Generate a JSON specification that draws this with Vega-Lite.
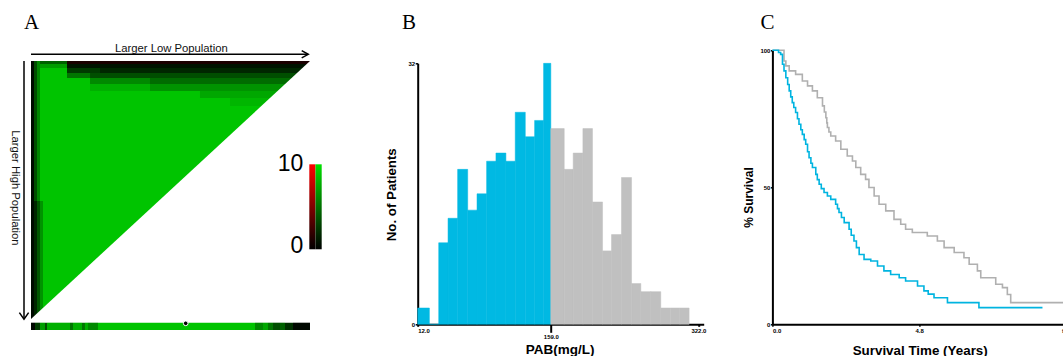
{
  "$schema": "https://vega.github.io/schema/vega-lite/v6.json",
  "autosize": {"type": "pad"},
  "padding": {"left": 9, "top": 11.3, "right": 0, "bottom": 0},
  "background": "white",
  "spacing": 68.7,
  "bounds": "flush",
  "config": {
    "view": {"stroke": null},
    "font": "Liberation Sans",
    "axis": {
      "domainColor": "#000", "domainWidth": 2, "tickColor": "#000", "tickWidth": 1.5, "tickSize": 2,
      "labelColor": "#000", "labelFont": "Liberation Sans", "labelFontSize": 6, "labelFontWeight": "bold",
      "labelPadding": 1, "labelOverlap": false, "labelFlush": false,
      "titleFont": "Liberation Sans", "titleFontWeight": "bold", "titleColor": "#000",
      "titleAlign": "center", "titleBaseline": "alphabetic", "grid": false
    }
  },
  "datasets": {
    "one": [{}],
    "cells": [
      {"u0": 0, "u1": 100, "w0": 0, "w1": 100, "chi": 10},
      {"u0": 1.08, "u1": 12.9, "w0": 0, "w1": 1.16, "chi": 5},
      {"u0": 12.9, "u1": 100, "w0": 0, "w1": 1.16, "chi": -1},
      {"u0": 1.08, "u1": 12.9, "w0": 1.16, "w1": 2.71, "chi": 8},
      {"u0": 12.9, "u1": 100, "w0": 1.16, "w1": 2.71, "chi": 1},
      {"u0": 12.9, "u1": 24.73, "w0": 2.71, "w1": 4.65, "chi": 3},
      {"u0": 24.73, "u1": 100, "w0": 2.71, "w1": 4.65, "chi": 2},
      {"u0": 12.9, "u1": 21.15, "w0": 4.65, "w1": 6.59, "chi": 6},
      {"u0": 21.15, "u1": 100, "w0": 4.65, "w1": 6.59, "chi": 4},
      {"u0": 21.15, "u1": 42.65, "w0": 6.59, "w1": 8.91, "chi": 7},
      {"u0": 42.65, "u1": 100, "w0": 6.59, "w1": 8.91, "chi": 5.5},
      {"u0": 21.15, "u1": 42.65, "w0": 8.91, "w1": 11.63, "chi": 9},
      {"u0": 42.65, "u1": 100, "w0": 8.91, "w1": 11.63, "chi": 7.5},
      {"u0": 60.57, "u1": 100, "w0": 11.63, "w1": 14.34, "chi": 8.5},
      {"u0": 71.33, "u1": 100, "w0": 14.34, "w1": 17.44, "chi": 9.3},
      {"u0": 0, "u1": 1.08, "w0": 0, "w1": 100, "chi": 0.5},
      {"u0": 1.08, "u1": 2.15, "w0": 0, "w1": 54.26, "chi": 4},
      {"u0": 1.08, "u1": 2.15, "w0": 54.26, "w1": 100, "chi": 2},
      {"u0": 2.15, "u1": 3.23, "w0": 0, "w1": 54.26, "chi": 7},
      {"u0": 2.15, "u1": 3.23, "w0": 54.26, "w1": 100, "chi": 4.5},
      {"u0": 3.23, "u1": 4.3, "w0": 54.26, "w1": 100, "chi": 7.5},
      {"u0": 0, "u1": 1.43, "w0": 101.43, "w1": 104.26, "chi": 0.3},
      {"u0": 1.43, "u1": 3.23, "w0": 101.43, "w1": 104.26, "chi": 3},
      {"u0": 3.23, "u1": 5.02, "w0": 101.43, "w1": 104.26, "chi": 8},
      {"u0": 5.02, "u1": 5.73, "w0": 101.43, "w1": 104.26, "chi": 4},
      {"u0": 5.73, "u1": 13.98, "w0": 101.43, "w1": 104.26, "chi": 9},
      {"u0": 13.98, "u1": 15.05, "w0": 101.43, "w1": 104.26, "chi": 6},
      {"u0": 15.05, "u1": 18.28, "w0": 101.43, "w1": 104.26, "chi": 9},
      {"u0": 18.28, "u1": 19.35, "w0": 101.43, "w1": 104.26, "chi": 6},
      {"u0": 19.35, "u1": 20.43, "w0": 101.43, "w1": 104.26, "chi": 9},
      {"u0": 20.43, "u1": 24.01, "w0": 101.43, "w1": 104.26, "chi": 7},
      {"u0": 24.01, "u1": 80.29, "w0": 101.43, "w1": 104.26, "chi": 10},
      {"u0": 80.29, "u1": 83.15, "w0": 101.43, "w1": 104.26, "chi": 7},
      {"u0": 83.15, "u1": 84.95, "w0": 101.43, "w1": 104.26, "chi": 8.5},
      {"u0": 84.95, "u1": 86.74, "w0": 101.43, "w1": 104.26, "chi": 6},
      {"u0": 86.74, "u1": 89.25, "w0": 101.43, "w1": 104.26, "chi": 4},
      {"u0": 89.25, "u1": 91.04, "w0": 101.43, "w1": 104.26, "chi": 5},
      {"u0": 91.04, "u1": 93.91, "w0": 101.43, "w1": 104.26, "chi": 2.5},
      {"u0": 93.91, "u1": 100, "w0": 101.43, "w1": 104.26, "chi": 0.4}
    ],
    "empty": [
      {"u": 0, "lo": 100, "hi": 100},
      {"u": 100, "lo": 0, "hi": 100}
    ],
    "hist": [
      {"lo": 12, "hi": 24.9, "n": 2, "grp": "low"},
      {"lo": 24.9, "hi": 35.2, "n": 0, "grp": "low"},
      {"lo": 35.2, "hi": 45.5, "n": 10, "grp": "low"},
      {"lo": 45.5, "hi": 56.1, "n": 13, "grp": "low"},
      {"lo": 56.1, "hi": 67.2, "n": 19, "grp": "low"},
      {"lo": 67.2, "hi": 77.5, "n": 14, "grp": "low"},
      {"lo": 77.5, "hi": 88.1, "n": 16, "grp": "low"},
      {"lo": 88.1, "hi": 98.4, "n": 20, "grp": "low"},
      {"lo": 98.4, "hi": 109.4, "n": 21, "grp": "low"},
      {"lo": 109.4, "hi": 119.7, "n": 20, "grp": "low"},
      {"lo": 119.7, "hi": 130.8, "n": 26, "grp": "low"},
      {"lo": 130.8, "hi": 141.1, "n": 23, "grp": "low"},
      {"lo": 141.1, "hi": 151.0, "n": 25, "grp": "low"},
      {"lo": 151.0, "hi": 159.0, "n": 32, "grp": "low"},
      {"lo": 159.0, "hi": 173.8, "n": 24, "grp": "high"},
      {"lo": 173.8, "hi": 183.7, "n": 19, "grp": "high"},
      {"lo": 183.7, "hi": 194.4, "n": 21, "grp": "high"},
      {"lo": 194.4, "hi": 205.0, "n": 24, "grp": "high"},
      {"lo": 205.0, "hi": 216.1, "n": 15, "grp": "high"},
      {"lo": 216.1, "hi": 226.0, "n": 9, "grp": "high"},
      {"lo": 226.0, "hi": 237.0, "n": 11, "grp": "high"},
      {"lo": 237.0, "hi": 248.1, "n": 18, "grp": "high"},
      {"lo": 248.1, "hi": 258.4, "n": 5, "grp": "high"},
      {"lo": 258.4, "hi": 269.4, "n": 4, "grp": "high"},
      {"lo": 269.4, "hi": 280.4, "n": 4, "grp": "high"},
      {"lo": 280.4, "hi": 291.0, "n": 2, "grp": "high"},
      {"lo": 291.0, "hi": 301.4, "n": 2, "grp": "high"},
      {"lo": 301.4, "hi": 311.7, "n": 2, "grp": "high"}
    ],
    "km": [
      {"grp": "high", "t": 0, "s": 100},
      {"grp": "high", "t": 0.29, "s": 100},
      {"grp": "high", "t": 0.38, "s": 96.1},
      {"grp": "high", "t": 0.44, "s": 94.3},
      {"grp": "high", "t": 0.55, "s": 92.5},
      {"grp": "high", "t": 0.76, "s": 91.2},
      {"grp": "high", "t": 0.98, "s": 88.8},
      {"grp": "high", "t": 1.15, "s": 87.0},
      {"grp": "high", "t": 1.31, "s": 85.2},
      {"grp": "high", "t": 1.47, "s": 82.7},
      {"grp": "high", "t": 1.64, "s": 79.7},
      {"grp": "high", "t": 1.7, "s": 77.5},
      {"grp": "high", "t": 1.75, "s": 75.4},
      {"grp": "high", "t": 1.78, "s": 73.5},
      {"grp": "high", "t": 1.8, "s": 71.8},
      {"grp": "high", "t": 1.85, "s": 70.2},
      {"grp": "high", "t": 1.91, "s": 68.7},
      {"grp": "high", "t": 2.07, "s": 66.9},
      {"grp": "high", "t": 2.24, "s": 63.9},
      {"grp": "high", "t": 2.45, "s": 61.4},
      {"grp": "high", "t": 2.62, "s": 59.6},
      {"grp": "high", "t": 2.73, "s": 57.2},
      {"grp": "high", "t": 2.89, "s": 54.7},
      {"grp": "high", "t": 3.05, "s": 52.9},
      {"grp": "high", "t": 3.16, "s": 49.9},
      {"grp": "high", "t": 3.33, "s": 46.8},
      {"grp": "high", "t": 3.49, "s": 43.8},
      {"grp": "high", "t": 3.71, "s": 41.4},
      {"grp": "high", "t": 3.98, "s": 38.3},
      {"grp": "high", "t": 4.2, "s": 36.5},
      {"grp": "high", "t": 4.36, "s": 34.7},
      {"grp": "high", "t": 4.58, "s": 33.5},
      {"grp": "high", "t": 5.07, "s": 32.2},
      {"grp": "high", "t": 5.4, "s": 30.4},
      {"grp": "high", "t": 5.62, "s": 28.0},
      {"grp": "high", "t": 5.95, "s": 26.2},
      {"grp": "high", "t": 6.27, "s": 24.3},
      {"grp": "high", "t": 6.44, "s": 21.9},
      {"grp": "high", "t": 6.71, "s": 19.5},
      {"grp": "high", "t": 6.82, "s": 17.0},
      {"grp": "high", "t": 7.31, "s": 14.6},
      {"grp": "high", "t": 7.53, "s": 13.4},
      {"grp": "high", "t": 7.69, "s": 10.9},
      {"grp": "high", "t": 7.8, "s": 7.9},
      {"grp": "high", "t": 9.6, "s": 7.9},
      {"grp": "low", "t": 0, "s": 100},
      {"grp": "low", "t": 0.2, "s": 99.2},
      {"grp": "low", "t": 0.27, "s": 98.5},
      {"grp": "low", "t": 0.33, "s": 94.9},
      {"grp": "low", "t": 0.38, "s": 92.5},
      {"grp": "low", "t": 0.44, "s": 90.0},
      {"grp": "low", "t": 0.5, "s": 87.5},
      {"grp": "low", "t": 0.55, "s": 85.2},
      {"grp": "low", "t": 0.6, "s": 83.0},
      {"grp": "low", "t": 0.65, "s": 80.9},
      {"grp": "low", "t": 0.7, "s": 79.1},
      {"grp": "low", "t": 0.76, "s": 77.3},
      {"grp": "low", "t": 0.82, "s": 75.0},
      {"grp": "low", "t": 0.87, "s": 73.0},
      {"grp": "low", "t": 0.93, "s": 71.0},
      {"grp": "low", "t": 0.98, "s": 69.3},
      {"grp": "low", "t": 1.04, "s": 67.4},
      {"grp": "low", "t": 1.09, "s": 65.7},
      {"grp": "low", "t": 1.15, "s": 63.0},
      {"grp": "low", "t": 1.2, "s": 60.8},
      {"grp": "low", "t": 1.26, "s": 58.8},
      {"grp": "low", "t": 1.31, "s": 57.2},
      {"grp": "low", "t": 1.42, "s": 54.7},
      {"grp": "low", "t": 1.47, "s": 52.8},
      {"grp": "low", "t": 1.53, "s": 51.1},
      {"grp": "low", "t": 1.6, "s": 49.5},
      {"grp": "low", "t": 1.69, "s": 48.1},
      {"grp": "low", "t": 1.8, "s": 46.8},
      {"grp": "low", "t": 1.91, "s": 45.6},
      {"grp": "low", "t": 2.07, "s": 43.8},
      {"grp": "low", "t": 2.13, "s": 42.2},
      {"grp": "low", "t": 2.18, "s": 40.8},
      {"grp": "low", "t": 2.26, "s": 39.0},
      {"grp": "low", "t": 2.35, "s": 37.1},
      {"grp": "low", "t": 2.51, "s": 34.7},
      {"grp": "low", "t": 2.58, "s": 32.5},
      {"grp": "low", "t": 2.67, "s": 30.4},
      {"grp": "low", "t": 2.75, "s": 28.0},
      {"grp": "low", "t": 2.84, "s": 25.5},
      {"grp": "low", "t": 3.0, "s": 23.7},
      {"grp": "low", "t": 3.22, "s": 23.1},
      {"grp": "low", "t": 3.44, "s": 21.3},
      {"grp": "low", "t": 3.65, "s": 19.5},
      {"grp": "low", "t": 3.87, "s": 18.2},
      {"grp": "low", "t": 4.15, "s": 17.0},
      {"grp": "low", "t": 4.36, "s": 15.8},
      {"grp": "low", "t": 4.75, "s": 14.0},
      {"grp": "low", "t": 4.96, "s": 12.2},
      {"grp": "low", "t": 5.1, "s": 11.0},
      {"grp": "low", "t": 5.29, "s": 9.7},
      {"grp": "low", "t": 5.73, "s": 7.9},
      {"grp": "low", "t": 6.76, "s": 6.1},
      {"grp": "low", "t": 8.84, "s": 6.1}
    ]
  },
  "hconcat": [
    {
      "width": 317.3,
      "height": 274,
      "layer": [
        {
          "data": {"name": "cells"},
          "mark": {"type": "rect"},
          "encoding": {
            "x": {"field": "u0", "type": "quantitative", "scale": {"domain": [0, 100], "range": [0, 279], "nice": false, "zero": false}, "axis": null},
            "x2": {"field": "u1"},
            "y": {"field": "w0", "type": "quantitative", "scale": {"domain": [0, 100], "range": [10.7, 268.7], "nice": false, "zero": false}, "axis": null},
            "y2": {"field": "w1"},
            "color": {"field": "chi", "type": "quantitative", "scale": {"domain": [-10, 0, 10], "range": ["#ff0000", "#000000", "#00c400"], "interpolate": "rgb"}, "legend": null}
          }
        },
        {
          "data": {"name": "empty"},
          "mark": {"type": "area", "color": "white"},
          "encoding": {
            "x": {"field": "u", "type": "quantitative"},
            "y": {"field": "lo", "type": "quantitative"},
            "y2": {"field": "hi"}
          }
        },
        {
          "data": {"name": "one"},
          "mark": {"type": "rule", "color": "black", "strokeWidth": 1.5},
          "encoding": {"x": {"datum": 0}, "x2": {"datum": 99.2}, "y": {"datum": -2.6}}
        },
        {
          "data": {"name": "one"},
          "mark": {"type": "point", "shape": "M-1,-0.55L0,0L-1,0.55", "filled": false, "stroke": "black", "strokeWidth": 1.5, "size": 174, "opacity": 1},
          "encoding": {"x": {"datum": 99.39}, "y": {"datum": -2.6}}
        },
        {
          "data": {"name": "one"},
          "mark": {"type": "rule", "color": "black", "strokeWidth": 1.5},
          "encoding": {"x": {"datum": -2.51}, "y": {"datum": 0}, "y2": {"datum": 99.9}}
        },
        {
          "data": {"name": "one"},
          "mark": {"type": "point", "shape": "M-0.7,-1L0,0L0.7,-1", "filled": false, "stroke": "black", "strokeWidth": 1.5, "size": 174, "opacity": 1},
          "encoding": {"x": {"datum": -2.51}, "y": {"datum": 100.1}}
        },
        {
          "data": {"name": "one"},
          "mark": {"type": "text", "text": "Larger Low Population", "font": "Liberation Sans", "fontSize": 11.3, "align": "center", "baseline": "alphabetic", "color": "#111"},
          "encoding": {"x": {"datum": 50.3}, "y": {"datum": -3.6}}
        },
        {
          "data": {"name": "one"},
          "mark": {"type": "text", "text": "Larger High Population", "font": "Liberation Sans", "fontSize": 11.3, "align": "center", "baseline": "middle", "angle": 90, "color": "#111"},
          "encoding": {"x": {"datum": -5.91}, "y": {"datum": 49.2}}
        },
        {
          "data": {"name": "one"},
          "mark": {"type": "point", "shape": "circle", "filled": true, "color": "black", "stroke": "white", "strokeWidth": 1, "size": 22, "opacity": 1},
          "encoding": {"x": {"datum": 55.45}, "y": {"datum": 101.67}}
        },
        {
          "data": {"name": "one"},
          "mark": {"type": "rect", "color": {"gradient": "linear", "x1": 0, "y1": 0, "x2": 0, "y2": 1, "stops": [{"offset": 0, "color": "#ff0000"}, {"offset": 1, "color": "#000000"}]}},
          "encoding": {"x": {"datum": 99.75}, "x2": {"datum": 101.97}, "y": {"datum": 40.04}, "y2": {"datum": 72.98}}
        },
        {
          "data": {"name": "one"},
          "mark": {"type": "rect", "color": {"gradient": "linear", "x1": 0, "y1": 0, "x2": 0, "y2": 1, "stops": [{"offset": 0, "color": "#00e000"}, {"offset": 1, "color": "#000000"}]}},
          "encoding": {"x": {"datum": 101.97}, "x2": {"datum": 104.19}, "y": {"datum": 40.04}, "y2": {"datum": 72.98}}
        },
        {
          "data": {"name": "one"},
          "mark": {"type": "text", "text": "10", "font": "Liberation Sans", "fontSize": 23, "align": "right", "baseline": "alphabetic", "color": "black"},
          "encoding": {"x": {"datum": 97.6}, "y": {"datum": 42.64}}
        },
        {
          "data": {"name": "one"},
          "mark": {"type": "text", "text": "0", "font": "Liberation Sans", "fontSize": 23, "align": "right", "baseline": "alphabetic", "color": "black"},
          "encoding": {"x": {"datum": 97.6}, "y": {"datum": 74.3}}
        },
        {
          "data": {"name": "one"},
          "mark": {"type": "text", "text": "A", "font": "Liberation Serif", "fontSize": 21, "align": "center", "baseline": "alphabetic", "color": "black"},
          "encoding": {"x": {"datum": 0.25}, "y": {"datum": -12.29}}
        }
      ]
    },
    {
      "width": 286,
      "height": 274,
      "layer": [
        {
          "data": {"name": "hist"},
          "mark": {"type": "rect", "strokeWidth": 0.5},
          "encoding": {
            "x": {"field": "lo", "type": "quantitative", "scale": {"domain": [12, 327.8], "range": [0, 286], "nice": false, "zero": false},
              "axis": {"values": [12, 159, 322], "format": ".1f", "tickWidth": 2,
                "tickSize": {"condition": {"test": "datum.value == 159", "value": 8}, "value": 2},
                "labelAlign": {"condition": {"test": "datum.value == 12", "value": "left"}, "value": "center"},
                "title": "PAB(mg/L)", "titleFontSize": 13.5, "titleX": 142, "titleY": 29}},
            "x2": {"field": "hi"},
            "y": {"field": "n", "type": "quantitative", "scale": {"domain": [0, 32], "range": [274, 13.05], "nice": false, "zero": false},
              "axis": {"values": [0, 32], "tickSize": 2.5, "labelPadding": 0.5,
                "title": "No. of Patients", "titleFontSize": 13.3, "titleX": -22, "titleY": 144, "titleAngle": 270}},
            "y2": {"datum": 0},
            "color": {"field": "grp", "type": "nominal", "scale": {"domain": ["low", "high"], "range": ["#00b9e3", "#c0c0c0"]}, "legend": null},
            "stroke": {"field": "grp", "type": "nominal", "scale": {"domain": ["low", "high"], "range": ["#00b9e3", "#c0c0c0"]}, "legend": null}
          }
        },
        {
          "data": {"name": "one"},
          "mark": {"type": "text", "text": "B", "font": "Liberation Serif", "fontSize": 21, "align": "center", "baseline": "alphabetic", "color": "black"},
          "encoding": {"x": {"datum": 2.39}, "y": {"datum": 36.21}}
        }
      ]
    },
    {
      "width": 293.3,
      "height": 274,
      "layer": [
        {
          "data": {"name": "km"},
          "mark": {"type": "line", "interpolate": "step-after", "strokeWidth": 1.6},
          "encoding": {
            "x": {"field": "t", "type": "quantitative", "scale": {"domain": [0, 9.6], "range": [0, 293.3], "nice": false, "zero": false},
              "axis": {"values": [0, 4.8, 9.6], "format": ".1f",
                "labelAlign": {"condition": {"test": "datum.value == 0", "value": "left"}, "value": "center"},
                "title": "Survival Time (Years)", "titleFontSize": 13.4, "titleX": 147.3, "titleY": 30.2}},
            "y": {"field": "s", "type": "quantitative", "scale": {"domain": [0, 100], "range": [274, 0], "nice": false, "zero": false},
              "axis": {"values": [0, 50, 100], "labelPadding": 0.5,
                "title": "% Survival", "titleFontSize": 12, "titleX": -20.2, "titleY": 146.7, "titleAngle": 270}},
            "color": {"field": "grp", "type": "nominal", "scale": {"domain": ["high", "low"], "range": ["#b0b0b0", "#00b4e0"]}, "legend": null},
            "order": {"field": "t", "type": "quantitative"}
          }
        },
        {
          "data": {"name": "one"},
          "mark": {"type": "text", "text": "C", "font": "Liberation Serif", "fontSize": 21, "align": "center", "baseline": "alphabetic", "color": "black"},
          "encoding": {"x": {"datum": -0.164}, "y": {"datum": 107.66}}
        }
      ]
    }
  ]
}
